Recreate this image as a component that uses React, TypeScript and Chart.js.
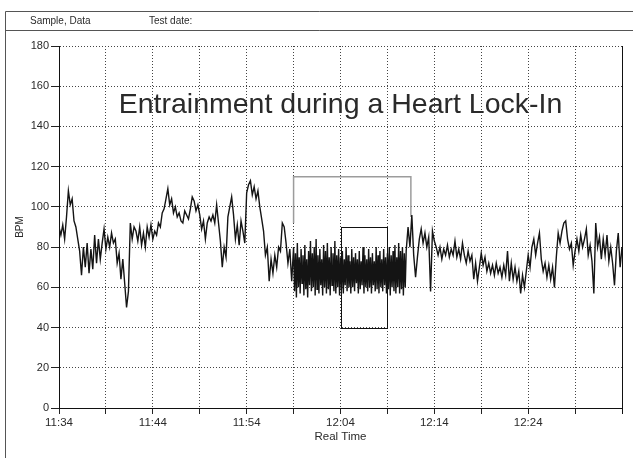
import React, { useEffect, useRef } from 'react';
import { Chart, registerables } from 'chart.js';

Chart.register(...registerables);

// ---- data ----
const headerLabels: string[] = ['Sample, Data', 'Test date:'];
const chartTitle = 'Entrainment during a Heart Lock-In';
const xAxisTitle = 'Real Time';
const yAxisTitle = 'BPM';
// minutes after 11:34, labelled every 10 minutes
const xTickLabels: string[] = ['11:34', '11:44', '11:54', '12:04', '12:14', '12:24'];
const xMinMinutes = 0;
const xMaxMinutes = 60;
const yMin = 0;
const yMax = 180;

// heart rate before the Lock-In: 11:34 -> 11:58.8, one value every 0.2 min
const bpmBeforeStart = 0;
const bpmBeforeStep = 0.2;
const bpmBefore: number[] = [
  90, 86, 91, 84, 95,
  108, 101, 104, 93, 90,
  84, 78, 66, 80, 70,
  82, 67, 79, 69, 86,
  72, 84, 74, 82, 89,
  79, 85, 80, 87, 82,
  84, 72, 77, 64, 74,
  62, 50, 58, 92, 84,
  90, 88, 83, 90, 81,
  87, 80, 90, 85, 91,
  84, 88, 86, 92, 90,
  97, 99, 104, 109, 101,
  104, 97, 100, 95, 97,
  93, 92, 98, 96, 94,
  99, 105, 103, 98, 101,
  96, 89, 93, 84, 92,
  95, 93, 96, 92, 101,
  92, 83, 70, 80, 75,
  95, 100, 105, 96, 84,
  91, 81, 93, 88, 82,
  107, 111, 113, 106, 110,
  104, 108, 100, 94, 88,
  76, 80, 63, 74, 67,
  76, 70, 80, 78, 92,
  90, 82, 72, 79, 63,
];

// entrained heart rate: 11:59 -> 12:10.9, one value every 0.1 min
const bpmEntrainedStart = 25;
const bpmEntrainedStep = 0.1;
const bpmEntrained: number[] = [
  80, 58, 77, 55, 82, 60, 75, 57, 79, 62,
  76, 56, 81, 59, 74, 55, 78, 61, 83, 58,
  77, 60, 80, 56, 84, 59, 76, 57, 79, 61,
  74, 56, 81, 60, 78, 57, 82, 59, 75, 56,
  80, 61, 77, 58, 83, 57, 76, 60, 79, 56,
  75, 59, 78, 57, 74, 61, 80, 58, 76, 60,
  73, 57, 79, 60, 75, 58, 77, 62, 74, 57,
  78, 59, 73, 61, 80, 57, 76, 60, 74, 58,
  79, 60, 75, 57, 77, 61, 73, 58, 80, 59,
  76, 57, 78, 60, 74, 58, 79, 61, 75, 57,
  77, 59, 80, 56, 76, 60, 78, 58, 81, 57,
  75, 60, 82, 57, 78, 59, 80, 56, 77, 60,
];

// heart rate after the Lock-In: 12:11 -> 12:34, one value every 0.2 min
const bpmAfterStart = 37;
const bpmAfterStep = 0.2;
const bpmAfter: number[] = [
  78, 90, 80, 96, 76,
  65, 75, 84, 89, 82,
  87, 80, 85, 58, 88,
  83, 80, 76, 80, 74,
  79, 76, 81, 75, 79,
  76, 83, 75, 79, 74,
  82, 76, 72, 78, 73,
  76, 64, 72, 63, 70,
  77, 71, 75, 68, 72,
  67, 71, 66, 72, 67,
  70, 65, 71, 66, 78,
  63, 72, 64, 70, 63,
  68, 57, 66, 60, 68,
  76, 70, 80, 84, 76,
  82, 87, 74, 68, 72,
  65, 71, 64, 70, 60,
  75, 87, 82, 88, 92,
  93, 84, 79, 82, 71,
  78, 84, 78, 86, 80,
  84, 89, 76, 81, 73,
  57, 92, 80, 85, 74,
  84, 76, 86, 73, 80,
  72, 61, 78, 87, 70,
  80,
];

// annotation: gray bracket over the entrainment period (minutes / BPM)
const bracketMinutes: number[] = [25, 37.5];
const bracketBpm: number[] = [92, 115, 95]; // left foot, top, right foot
// annotation: black box (minutes / BPM)
const boxMinutes: number[] = [30, 35];
const boxBpm: number[] = [40, 90];

const FONT = '"Liberation Sans", Arial, Helvetica, sans-serif';
const TEXT = '#2a2a2a';

const toPoints = (values: number[], start: number, step: number) =>
  values.map((v, i) => ({ x: Math.round((start + i * step) * 1000) / 1000, y: v }));

const decorPlugin = {
  id: 'decor',
  beforeDatasetsDraw(chart: any) {
    const { ctx, scales } = chart;
    const x = scales.x;
    const y = scales.y;
    ctx.save();
    ctx.strokeStyle = '#9c9c9c';
    ctx.lineWidth = 1.5;
    ctx.beginPath();
    ctx.moveTo(x.getPixelForValue(bracketMinutes[0]), y.getPixelForValue(bracketBpm[0]));
    ctx.lineTo(x.getPixelForValue(bracketMinutes[0]), y.getPixelForValue(bracketBpm[1]));
    ctx.lineTo(x.getPixelForValue(bracketMinutes[1]), y.getPixelForValue(bracketBpm[1]));
    ctx.lineTo(x.getPixelForValue(bracketMinutes[1]), y.getPixelForValue(bracketBpm[2]));
    ctx.stroke();
    ctx.strokeStyle = '#111';
    ctx.lineWidth = 1;
    const bx0 = Math.round(x.getPixelForValue(boxMinutes[0])) + 0.5;
    const bx1 = Math.round(x.getPixelForValue(boxMinutes[1])) + 0.5;
    const by0 = Math.round(y.getPixelForValue(boxBpm[1])) + 0.5;
    const by1 = Math.round(y.getPixelForValue(boxBpm[0])) + 0.5;
    ctx.strokeRect(bx0, by0, bx1 - bx0, by1 - by0);
    ctx.restore();
  },
  afterDraw(chart: any) {
    const { ctx, chartArea } = chart;
    ctx.save();
    // right frame of the plot
    ctx.strokeStyle = '#111';
    ctx.lineWidth = 1;
    const rx = Math.round(chartArea.right) + 0.5;
    ctx.beginPath();
    ctx.moveTo(rx, chartArea.top);
    ctx.lineTo(rx, chartArea.bottom + 6);
    ctx.stroke();
    // page frame + header
    ctx.strokeStyle = '#555';
    ctx.beginPath();
    ctx.moveTo(5.5, 458);
    ctx.lineTo(5.5, 11.5);
    ctx.lineTo(633, 11.5);
    ctx.moveTo(5.5, 30.5);
    ctx.lineTo(633, 30.5);
    ctx.stroke();
    ctx.fillStyle = TEXT;
    ctx.font = `10px ${FONT}`;
    ctx.textBaseline = 'middle';
    ctx.textAlign = 'left';
    ctx.fillText(headerLabels[0], 30, 21.5);
    ctx.fillText(headerLabels[1], 149, 21.5);
    // chart title
    ctx.font = `28.5px ${FONT}`;
    ctx.textAlign = 'center';
    ctx.fillText(chartTitle, (chartArea.left + chartArea.right) / 2, 105);
    ctx.restore();
  },
};

export default function App() {
  const canvasRef = useRef<HTMLCanvasElement | null>(null);

  useEffect(() => {
    const canvas = canvasRef.current;
    if (!canvas) return;
    const points = [
      ...toPoints(bpmBefore, bpmBeforeStart, bpmBeforeStep),
      ...toPoints(bpmEntrained, bpmEntrainedStart, bpmEntrainedStep),
      ...toPoints(bpmAfter, bpmAfterStart, bpmAfterStep),
    ];
    const chart = new Chart(canvas, {
      type: 'line',
      data: {
        datasets: [
          {
            data: points,
            borderColor: '#141414',
            borderWidth: 1.4,
            pointRadius: 0,
            tension: 0,
            fill: false,
          },
        ],
      },
      options: {
        responsive: false,
        animation: false,
        devicePixelRatio: 1,
        events: [],
        layout: { padding: { left: 12, right: 11, top: 46, bottom: 0 } },
        plugins: {
          legend: { display: false },
          tooltip: { enabled: false },
          title: { display: false },
        },
        scales: {
          x: {
            type: 'linear',
            min: xMinMinutes,
            max: xMaxMinutes,
            afterFit: (s: any) => {
              s.height = 50;
            },
            ticks: {
              stepSize: 5,
              autoSkip: false,
              maxRotation: 0,
              color: TEXT,
              padding: 2,
              font: { family: FONT, size: 11.5 },
              callback: (v: any) => {
                const n = Number(v);
                const idx = n / 10;
                return Number.isInteger(idx) && idx < xTickLabels.length ? xTickLabels[idx] : '';
              },
            },
            grid: {
              color: '#444',
              lineWidth: 1,
              drawTicks: true,
              tickLength: 6,
              tickColor: '#222',
            },
            border: { display: true, color: '#111', width: 1, dash: [1, 2] },
            title: {
              display: true,
              text: xAxisTitle,
              color: TEXT,
              font: { family: FONT, size: 11.5 },
              padding: { top: 0, bottom: 14 },
            },
          },
          y: {
            min: yMin,
            max: yMax,
            afterFit: (s: any) => {
              s.width = 47;
            },
            ticks: {
              stepSize: 20,
              color: TEXT,
              padding: 2,
              font: { family: FONT, size: 11 },
            },
            grid: {
              color: '#444',
              lineWidth: 1,
              drawTicks: true,
              tickLength: 8,
              tickColor: '#222',
            },
            border: { display: true, color: '#111', width: 1, dash: [1, 2] },
            title: {
              display: true,
              text: yAxisTitle,
              color: TEXT,
              font: { family: FONT, size: 10 },
              padding: { top: 2, bottom: 0 },
            },
          },
        },
      },
      plugins: [decorPlugin],
    });
    return () => chart.destroy();
  }, []);

  return (
    <div style={{ position: 'fixed', left: 0, top: 0, width: 633, height: 458, background: '#fff' }}>
      <canvas ref={canvasRef} width={633} height={458} style={{ display: 'block' }} />
    </div>
  );
}
